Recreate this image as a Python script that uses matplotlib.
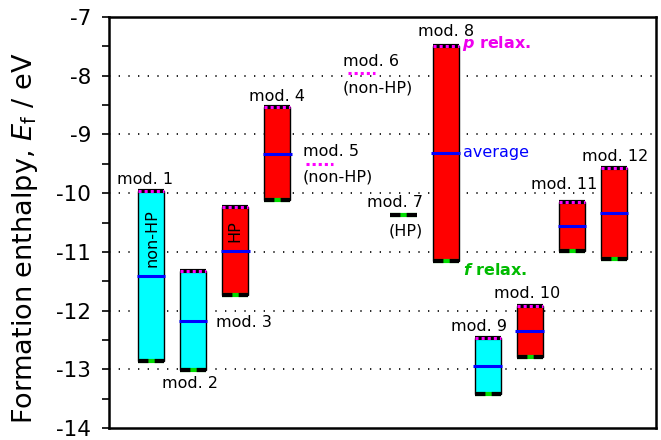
import matplotlib
matplotlib.use("Agg")
import matplotlib.pyplot as plt
from matplotlib.ticker import MultipleLocator

plt.rcParams['font.family'] = ['DejaVu Sans']
plt.rcParams['axes.unicode_minus'] = False

# ---- data ----
models = ["mod. 1", "mod. 2", "mod. 3", "mod. 4", "mod. 5", "mod. 6",
          "mod. 7", "mod. 8", "mod. 9", "mod. 10", "mod. 11", "mod. 12"]
positions = [1, 2, 3, 4, 5, 6, 7, 8, 9, 10, 11, 12]
# bars: p relax (top), f relax (bottom), average
bar_idx = [0, 1, 2, 3, 7, 8, 9, 10, 11]
p_relax = [-9.96, -11.32, -10.23, -8.54, -7.50, -12.46, -11.92, -10.15, -9.58]
f_relax = [-12.86, -13.01, -11.74, -10.12, -11.15, -13.42, -12.79, -10.99, -11.12]
average = [-11.41, -12.17, -10.98, -9.34, -9.32, -12.94, -12.35, -10.56, -10.34]
bar_type = ["non-HP", "non-HP", "HP", "HP", "HP", "non-HP", "HP", "HP", "HP"]
# single-value models
single_idx = [4, 5, 6]
single_val = [-9.51, -7.95, -10.38]
single_kind = ["p", "p", "f"]
yticks = [-14, -13, -12, -11, -10, -9, -8, -7]

colors = {"non-HP": "#00FFFF", "HP": "#FF0000"}
bar_w = 0.62
line_w = 0.65

fig = plt.figure(figsize=(6.61, 4.40), dpi=100)
ax = fig.add_axes([109/661, 12/440, (656-109)/661, (428-17)/440])
ax.set_xlim(0, 13)
ax.set_ylim(-14, -7)

# grid
for g in [-13, -12, -11, -10, -9, -8]:
    ax.axhline(g, color="black", lw=1.2, ls=(0, (0.8, 5)), zorder=0.5)

def top_line(x, y, w):
    ax.hlines(y, x - w/2, x + w/2, colors="black", lw=3, zorder=4)
    ax.hlines(y, x - w/2, x + w/2, colors="#FF00FF", lw=2.2, ls=(0, (1, 1)), zorder=5)

def bottom_line(x, y, w):
    ax.hlines(y, x - w/2, x + w/2, colors="#00DD00", lw=3, zorder=4)
    ax.hlines(y, x - w/2, x + w/2, colors="black", lw=3, ls=(0, (2.5, 1.5)), zorder=5)

for k, i in enumerate(bar_idx):
    x = positions[i]
    ax.bar(x, p_relax[k] - f_relax[k], bottom=f_relax[k], width=bar_w,
           color=colors[bar_type[k]], edgecolor="black", lw=1.0, zorder=2)
    ax.hlines(average[k], x - bar_w/2 - 0.03, x + bar_w/2 + 0.03,
              colors="#0000FF", lw=2.2, zorder=3)
    top_line(x, p_relax[k], bar_w)
    bottom_line(x, f_relax[k], bar_w)

for k, i in enumerate(single_idx):
    x = positions[i]
    if single_kind[k] == "p":
        ax.hlines(single_val[k], x - line_w/2, x + line_w/2, colors="#FF00FF",
                  lw=2.2, ls=(0, (1, 1)), zorder=5)
    else:
        bottom_line(x, single_val[k], line_w)

# labels
fs = 11.5
lab = dict(fontsize=fs, color="black", zorder=6)
ax.text(0.855, -9.763, models[0], ha="center", va="center", **lab)
ax.text(1.925, -13.237, models[1], ha="center", va="center", **lab)
ax.text(3.208, -12.203, models[2], ha="center", va="center", **lab)
ax.text(4.004, -8.356, models[3], ha="center", va="center", **lab)
ax.text(4.61, -9.288, models[4], ha="left", va="center", **lab)
ax.text(4.61, -9.729, "(non-HP)", ha="left", va="center", **lab)
ax.text(5.561, -7.763, models[5], ha="left", va="center", **lab)
ax.text(5.561, -8.203, "(non-HP)", ha="left", va="center", **lab)
ax.text(7.462, -10.153, models[6], ha="right", va="center", **lab)
ax.text(7.462, -10.644, "(HP)", ha="right", va="center", **lab)
ax.text(8.009, -7.254, models[7], ha="center", va="center", **lab)
ax.text(8.793, -12.271, models[8], ha="center", va="center", **lab)
ax.text(9.945, -11.712, models[9], ha="center", va="center", **lab)
ax.text(10.813, -9.847, models[10], ha="center", va="center", **lab)
ax.text(12.037, -9.373, models[11], ha="center", va="center", **lab)

ax.text(1.015, -10.763, "non-HP", rotation=90, ha="center", va="center", **lab)
ax.text(2.994, -10.644, "HP", rotation=90, ha="center", va="center", **lab)

ax.text(8.389, -7.458, r"$\boldsymbol{p}$ relax.", ha="left", va="center",
        fontsize=11.5, fontweight="bold", color="#EE00EE", zorder=6)
ax.text(8.413, -9.305, "average", ha="left", va="center",
        fontsize=fs, color="#0000FF", zorder=6)
ax.text(8.413, -11.305, r"$\boldsymbol{f}$ relax.", ha="left", va="center",
        fontsize=11.5, fontweight="bold", color="#00BB00", zorder=6)

# axes styling
ax.set_xticks([])
ax.set_yticks(yticks)
ax.yaxis.set_minor_locator(MultipleLocator(0.5))
ax.tick_params(axis="y", which="both", direction="out", length=5, width=1.2,
               labelsize=15.5, pad=8)
for s in ax.spines.values():
    s.set_linewidth(1.8)
ax.set_ylabel(r"Formation enthalpy, $E_\mathrm{f}$ / eV", fontsize=19.5)
ax.yaxis.set_label_coords(-0.126, 0.462)

fig.savefig("out.png", dpi=100)
